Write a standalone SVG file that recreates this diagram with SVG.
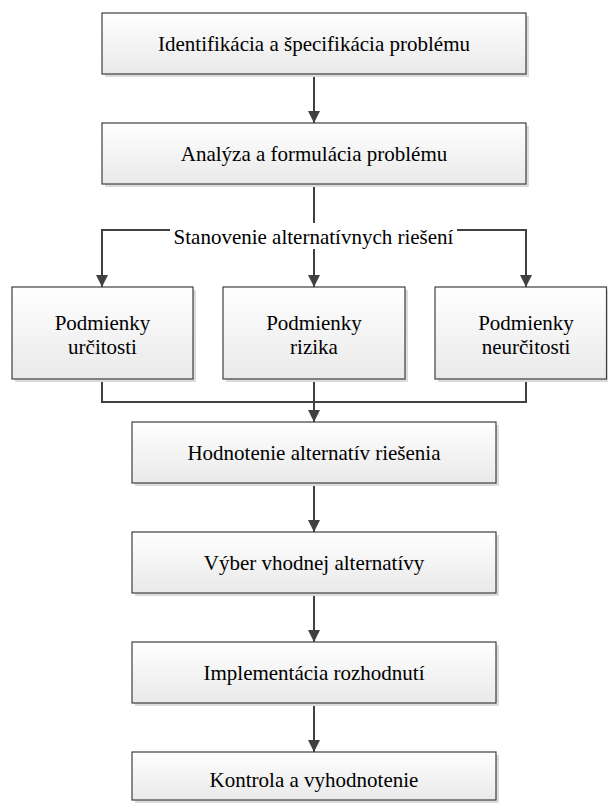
<svg xmlns="http://www.w3.org/2000/svg" width="608" height="807" viewBox="0 0 608 807">
  <defs>
    <linearGradient id="boxFill" x1="0" y1="0" x2="0" y2="1">
      <stop offset="0" stop-color="#ffffff"/>
      <stop offset="1" stop-color="#e9e9e9"/>
    </linearGradient>
    <marker id="arrow" viewBox="0 0 12 13" refX="12" refY="6" markerWidth="12" markerHeight="13" markerUnits="userSpaceOnUse" orient="auto">
      <path d="M0,0 L12,6 L0,12 Z" fill="#404040"/>
    </marker>
    <style>
      .shadow { fill: #dcdcdc; }
      .box { fill: url(#boxFill); stroke: #3f3f3f; stroke-width: 1.2; }
      .label { font-family: "Liberation Serif", "DejaVu Serif", "Times New Roman", serif; font-size: 21px; fill: #000; text-anchor: middle; }
      .wire { fill: none; stroke: #404040; stroke-width: 2; }
      .arrowed { marker-end: url(#arrow); }
    </style>
  </defs>

  <rect width="608" height="807" fill="#ffffff"/>

  <!-- connectors -->
  <g id="connectors">
    <line class="wire arrowed" x1="314" y1="74" x2="314" y2="123"/>
    <line class="wire" x1="314" y1="184" x2="314" y2="230"/>
    <polyline class="wire arrowed" points="314,230 102,230 102,287"/>
    <polyline class="wire arrowed" points="314,230 526,230 526,287"/>
    <line class="wire arrowed" x1="314" y1="230" x2="314" y2="287"/>
    <polyline class="wire" points="102,379 102,402 526,402 526,379"/>
    <line class="wire" x1="314" y1="379" x2="314" y2="402"/>
    <line class="wire arrowed" x1="314" y1="402" x2="314" y2="422"/>
    <line class="wire arrowed" x1="314" y1="483" x2="314" y2="532"/>
    <line class="wire arrowed" x1="314" y1="593" x2="314" y2="642"/>
    <line class="wire arrowed" x1="314" y1="703" x2="314" y2="752"/>
    <!-- branch label sits on the split line -->
    <g id="split-label">
      <rect x="170" y="223" width="287" height="26" fill="#ffffff"/>
      <text class="label" x="313.5" y="244">Stanovenie alternatívnych riešení</text>
    </g>
  </g>

  <g id="identifikacia">
    <rect class="shadow" x="105" y="16" width="424" height="61"/>
    <rect class="box" x="102" y="13" width="424" height="61"/>
    <text class="label" x="314" y="51">Identifikácia a špecifikácia problému</text>
  </g>

  <g id="analyza">
    <rect class="shadow" x="105" y="126" width="424" height="61"/>
    <rect class="box" x="102" y="123" width="424" height="61"/>
    <text class="label" x="314" y="161">Analýza a formulácia problému</text>
  </g>

  <g id="urcitost">
    <rect class="shadow" x="15" y="290" width="181" height="92"/>
    <rect class="box" x="12" y="287" width="181" height="92"/>
    <text class="label" x="102.5" y="330">Podmienky</text>
    <text class="label" x="102.5" y="354">určitosti</text>
  </g>

  <g id="riziko">
    <rect class="shadow" x="226" y="290" width="182" height="92"/>
    <rect class="box" x="223" y="287" width="182" height="92"/>
    <text class="label" x="314" y="330">Podmienky</text>
    <text class="label" x="314" y="354">rizika</text>
  </g>

  <g id="neurcitost">
    <rect class="shadow" x="438" y="290" width="172" height="92"/>
    <rect class="box" x="435" y="287" width="171.5" height="92"/>
    <text class="label" x="526" y="330">Podmienky</text>
    <text class="label" x="526" y="354">neurčitosti</text>
  </g>

  <g id="hodnotenie">
    <rect class="shadow" x="135" y="425" width="364" height="61"/>
    <rect class="box" x="132" y="422" width="364" height="61"/>
    <text class="label" x="314" y="460">Hodnotenie alternatív riešenia</text>
  </g>

  <g id="vyber">
    <rect class="shadow" x="135" y="535" width="364" height="61"/>
    <rect class="box" x="132" y="532" width="364" height="61"/>
    <text class="label" x="314" y="570">Výber vhodnej alternatívy</text>
  </g>

  <g id="implementacia">
    <rect class="shadow" x="135" y="645" width="364" height="61"/>
    <rect class="box" x="132" y="642" width="364" height="61"/>
    <text class="label" x="314" y="680">Implementácia rozhodnutí</text>
  </g>

  <g id="kontrola">
    <rect class="shadow" x="135" y="755" width="364" height="48"/>
    <rect class="box" x="132" y="752" width="364" height="48"/>
    <text class="label" x="314" y="787">Kontrola a vyhodnotenie</text>
  </g>
</svg>
